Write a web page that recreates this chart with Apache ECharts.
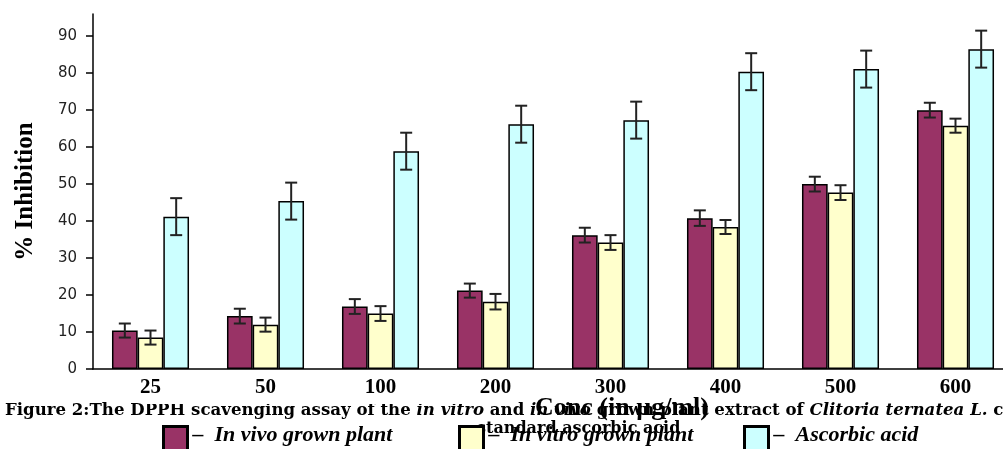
<!DOCTYPE html>
<html>
<head>
<meta charset="utf-8">
<script src="https://cdn.jsdelivr.net/npm/echarts@6/dist/echarts.min.js"></script>
<style>
html,body{margin:0;padding:0;background:#fff;overflow:hidden;}
#chart{width:1003px;height:449px;}
</style>
</head>
<body>
<div id="chart"></div>
<script>
// ---- data ----
const categories = ['25', '50', '100', '200', '300', '400', '500', '600'];
const seriesNames = ['In vivo grown plant', 'In vitro grown plant', 'Ascorbic acid'];
const inVivo      = [10.4, 14.3, 16.9, 21.2, 36.2, 40.8, 50.0, 70.0];
const inVivoErr   = [1.9, 2.0, 2.0, 1.9, 2.0, 2.1, 2.0, 2.0];
const inVitro     = [8.5, 12.0, 15.0, 18.2, 34.2, 38.4, 47.7, 65.8];
const inVitroErr  = [1.9, 1.9, 2.0, 2.1, 2.0, 1.9, 2.0, 1.9];
const ascorbic    = [41.2, 45.4, 58.9, 66.2, 67.3, 80.4, 81.1, 86.5];
const ascorbicErr = [5.0, 5.0, 5.0, 5.0, 5.0, 5.0, 5.0, 5.0];
const yTicks = [0, 10, 20, 30, 40, 50, 60, 70, 80, 90];

// ---- styles ----
const colors = ['#993366', '#FFFFCC', '#CCFFFF'];
const catGap = 0.33;

function barSeries(i, vals) {
  return {
    type: 'bar', name: seriesNames[i], data: vals,
    barGap: '0%', barCategoryGap: (catGap * 100) + '%',
    itemStyle: { color: colors[i], borderColor: '#000', borderWidth: 1.5 },
    z: 2
  };
}
function errSeries(i, vals, errs) {
  return {
    type: 'custom',
    data: vals.map((v, k) => [k, v - errs[k], v + errs[k]]),
    encode: { x: 0, y: [1, 2] },
    z: 10,
    renderItem: function (params, api) {
      const band = api.size([1, 0])[0];
      const bw = band * (1 - catGap) / 3;
      const cx = api.coord([api.value(0), 0])[0] + (i - 1) * bw;
      const lo = api.coord([api.value(0), api.value(1)])[1];
      const hi = api.coord([api.value(0), api.value(2)])[1];
      const h = 6;
      const st = { stroke: '#222', lineWidth: 2 };
      return {
        type: 'group', children: [
          { type: 'line', shape: { x1: cx, y1: lo, x2: cx, y2: hi }, style: st },
          { type: 'line', shape: { x1: cx - h, y1: hi, x2: cx + h, y2: hi }, style: st },
          { type: 'line', shape: { x1: cx - h, y1: lo, x2: cx + h, y2: lo }, style: st }
        ]
      };
    }
  };
}
function legendAt(i, left) {
  return {
    data: [seriesNames[i]], left: left, top: 419,
    icon: 'rect', itemWidth: 24, itemHeight: 28,
    itemStyle: { borderColor: '#000', borderWidth: 3 },
    formatter: n => '{t|–  ' + n + '}',
    selectedMode: false,
    textStyle: {
      fontFamily: 'Liberation Serif', fontWeight: 'bold', fontStyle: 'italic', fontSize: 22, color: '#000',
      rich: { t: { fontFamily: 'Liberation Serif', fontWeight: 'bold', fontStyle: 'italic', fontSize: 22, lineHeight: 24, color: '#000', padding: [0, 0, 11, 0] } }
    }
  };
}

const chart = echarts.init(document.getElementById('chart'), null, { renderer: 'canvas' });
chart.setOption({
  animation: false,
  backgroundColor: '#fff',
  grid: { left: 93, right: -10, top: 14, bottom: 80, containLabel: false, outerBoundsMode: 'none' },
  legend: [legendAt(0, 157), legendAt(1, 453), legendAt(2, 738)],
  xAxis: {
    type: 'category', data: categories,
    axisLine: { lineStyle: { color: '#000', width: 1.5 } },
    axisTick: { length: 6, lineStyle: { color: '#000', width: 1.5 } },
    axisLabel: { interval: 0, margin: 8, fontFamily: 'Liberation Serif', fontWeight: 'bold', fontSize: 21, color: '#000' },
    name: 'Conc (in µg/ml)', nameLocation: 'middle', nameGap: 26, nameMoveOverlap: false,
    nameTextStyle: { fontFamily: 'Liberation Serif', fontWeight: 'bold', fontSize: 26, color: '#000', padding: [0, 0, 0, 138] }
  },
  yAxis: {
    type: 'value', min: 0, max: 96, interval: 10,
    splitLine: { show: false },
    axisLine: { show: true, lineStyle: { color: '#000', width: 1.5 } },
    axisTick: { show: true, length: 7, customValues: yTicks, lineStyle: { color: '#000', width: 1.5 } },
    axisLabel: { customValues: yTicks, margin: 16, fontFamily: 'DejaVu Sans', fontSize: 15, color: '#222' },
    name: '% Inhibition', nameLocation: 'middle', nameGap: 55,
    nameTextStyle: { fontFamily: 'Liberation Serif', fontWeight: 'bold', fontSize: 25, color: '#000' }
  },
  graphic: [
    {
      type: 'text', left: 5, top: 402, z: 1,
      style: {
        text: '{b|Figure 2:The DPPH scavenging assay of the }{bi|in vitro}{b| and }{bi|in vivo}{b| grown plant extract of }{bi|Clitoria ternatea L.}{b| compared to}',
        rich: {
          b: { fontFamily: 'DejaVu Serif', fontWeight: 'bold', fontSize: 16.6, fill: '#000' },
          bi: { fontFamily: 'DejaVu Serif', fontWeight: 'bold', fontStyle: 'italic', fontSize: 16.6, fill: '#000' }
        }
      }
    },
    {
      type: 'text', left: 477, top: 421, z: 1,
      style: { text: 'standard ascorbic acid', fontFamily: 'DejaVu Serif', fontWeight: 'bold', fontSize: 16, fill: '#000' }
    },
    {
      type: 'rect', z: 2,
      shape: { x: 142, y: 395, width: 350, height: 9 },
      style: { fill: '#fff' }
    }
  ],
  series: [
    barSeries(0, inVivo), barSeries(1, inVitro), barSeries(2, ascorbic),
    errSeries(0, inVivo, inVivoErr), errSeries(1, inVitro, inVitroErr), errSeries(2, ascorbic, ascorbicErr)
  ]
});
</script>
</body>
</html>
